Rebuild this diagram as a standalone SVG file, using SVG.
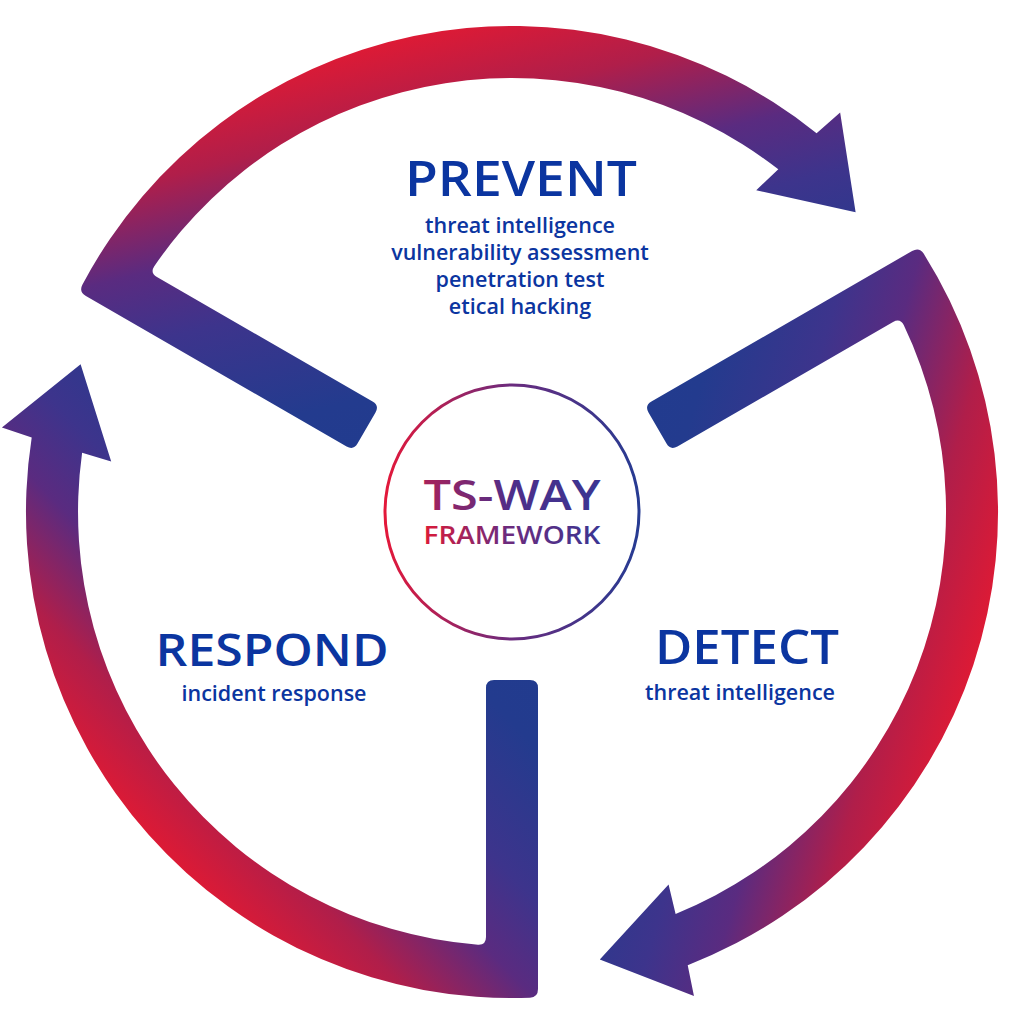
<svg xmlns="http://www.w3.org/2000/svg" xmlns:xlink="http://www.w3.org/1999/xlink" width="1024" height="1024" viewBox="0 0 1024 1024">
  <style>
    .title { font-family: "Open Sans", "Noto Sans", "Liberation Sans", sans-serif; font-weight: 600; fill: #0b35a0; text-anchor: middle; }
    .sub { font-family: "Open Sans", "Noto Sans", "Liberation Sans", sans-serif; font-weight: 600; fill: #0b35a0; text-anchor: middle; font-size: 21.5px; }
    .core { font-family: "Open Sans", "Noto Sans", "Liberation Sans", sans-serif; font-weight: 600; text-anchor: middle; }
  </style>
  <defs>
    <linearGradient id="segGrad" gradientUnits="userSpaceOnUse" x1="0" y1="0" x2="350" y2="-338">
      <stop offset="0" stop-color="#1f3c8f"/>
      <stop offset="0.3" stop-color="#233b8e"/>
      <stop offset="0.52" stop-color="#3d348c"/>
      <stop offset="0.66" stop-color="#5a2b80"/>
      <stop offset="0.84" stop-color="#b01e4a"/>
      <stop offset="1" stop-color="#dd1a35"/>
    </linearGradient>
    <linearGradient id="ringGrad" x1="0" y1="0" x2="1" y2="0">
      <stop offset="0" stop-color="#e3183a"/>
      <stop offset="0.5" stop-color="#6a2b7e"/>
      <stop offset="1" stop-color="#263b92"/>
    </linearGradient>
    <linearGradient id="tsGrad" x1="0" y1="0" x2="1" y2="0">
      <stop offset="0" stop-color="#a8215a"/>
      <stop offset="0.5" stop-color="#4d2e8a"/>
      <stop offset="1" stop-color="#3b3592"/>
    </linearGradient>
    <linearGradient id="fwGrad" x1="0" y1="0" x2="1" y2="0">
      <stop offset="0" stop-color="#dc1a38"/>
      <stop offset="0.45" stop-color="#6f2a7c"/>
      <stop offset="1" stop-color="#3b3592"/>
    </linearGradient>
    <path id="seg" fill="url(#segGrad)" d="M -26,-176 L -26,-477 Q -26,-485.3 -18,-485.7 A 486 486 0 0 1 480.3,74.4 L 510.1,84.4 L 431.4,147.7 L 400.8,50.6 L 429.9,59.3 A 434 434 0 0 0 34,-432.7 Q 26,-433.2 26,-425 L 26,-176 Q 26,-168 18,-168 L -18,-168 Q -26,-168 -26,-176 Z"/>
  </defs>

  <rect width="1024" height="1024" fill="#ffffff"/>

  <g id="connectors">
    <use id="arrow-prevent" xlink:href="#seg" href="#seg" transform="translate(512 512) rotate(-60)"/>
    <use id="arrow-detect" xlink:href="#seg" href="#seg" transform="translate(512 512) rotate(60)"/>
    <use id="arrow-respond" xlink:href="#seg" href="#seg" transform="translate(512 512) rotate(180)"/>
  </g>

  <g id="node-center">
    <circle cx="512" cy="512" r="127" fill="#ffffff" stroke="url(#ringGrad)" stroke-width="3"/>
    <text class="core" x="512" y="510" font-size="41" fill="url(#tsGrad)" textLength="177" lengthAdjust="spacingAndGlyphs">TS-WAY</text>
    <text class="core" x="512" y="544" font-size="25" fill="url(#fwGrad)" textLength="177" lengthAdjust="spacingAndGlyphs">FRAMEWORK</text>
  </g>

  <g id="node-prevent">
    <text class="title" x="521" y="196" font-size="49" textLength="232" lengthAdjust="spacingAndGlyphs">PREVENT</text>
    <text class="sub" x="520" y="233">threat intelligence</text>
    <text class="sub" x="520" y="260">vulnerability assessment</text>
    <text class="sub" x="520" y="287">penetration test</text>
    <text class="sub" x="520" y="314">etical hacking</text>
  </g>

  <g id="node-respond">
    <text class="title" x="272" y="666" font-size="46" textLength="233" lengthAdjust="spacingAndGlyphs">RESPOND</text>
    <text class="sub" x="274" y="701">incident response</text>
  </g>

  <g id="node-detect">
    <text class="title" x="747" y="664" font-size="47" textLength="184" lengthAdjust="spacingAndGlyphs">DETECT</text>
    <text class="sub" x="740" y="700">threat intelligence</text>
  </g>
</svg>
